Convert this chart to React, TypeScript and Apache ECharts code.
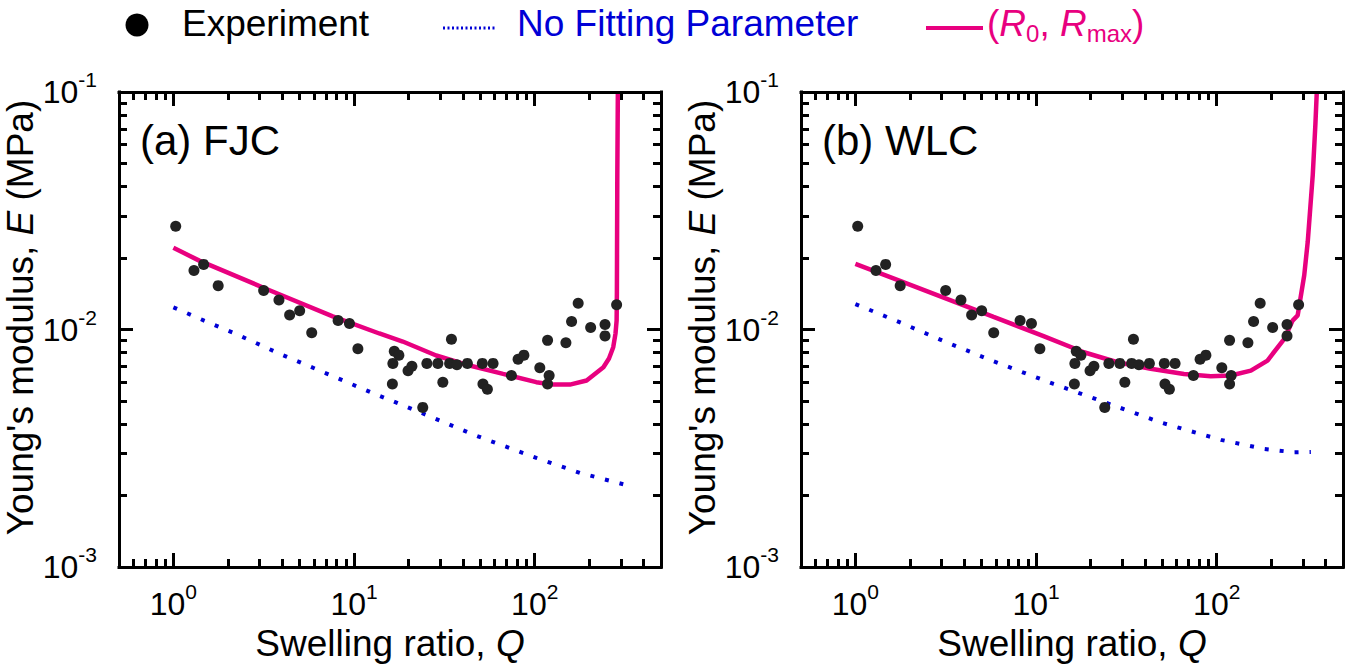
import React, { useEffect, useRef } from 'react';
import * as echarts from 'echarts';

const FONT = '"Liberation Sans", Arial, Helvetica, sans-serif';
const DOT = '#222222';
const BLUE = '#0000d6';
const PINK = '#e8007f';

// Experimental data (shared by both panels)
const expQ = [1.03, 1.30, 1.47, 1.77, 3.16, 3.84, 4.40, 5.00, 5.83, 8.16, 9.43, 10.5, 16.3, 16.4, 16.7, 17.7, 19.9, 20.9, 24.0, 25.3, 29.1, 31.0, 33.8, 34.6, 37.1, 42.4, 51.3, 51.7, 54.7, 58.8, 74.3, 80.9, 87.1, 106.7, 117.8, 120.2, 117.8, 148.8, 160, 174, 204, 245, 245, 284];
const expE = [0.0272, 0.0177, 0.0188, 0.0153, 0.0146, 0.0133, 0.0115, 0.0120, 0.0097, 0.0109, 0.0106, 0.0083, 0.0059, 0.0072, 0.0081, 0.0078, 0.0067, 0.0070, 0.0047, 0.0072, 0.0072, 0.0060, 0.0072, 0.0091, 0.0071, 0.0072, 0.0072, 0.0059, 0.0056, 0.0072, 0.0064, 0.0075, 0.0078, 0.0069, 0.0090, 0.0064, 0.0059, 0.0088, 0.0108, 0.0129, 0.0102, 0.0105, 0.0094, 0.0127];

// (a) FJC
const fjcFitQ = [1, 1.39, 3.25, 7.62, 13.8, 18.6, 28.5, 43.6, 66.8, 102, 126.5, 156.6, 193.8, 240, 257.7, 272, 280, 284, 285, 286.5, 288.5];
const fjcFitE = [0.0221, 0.0195, 0.01485, 0.01135, 0.00962, 0.0089, 0.00777, 0.00705, 0.0065, 0.0060, 0.00586, 0.00586, 0.0061, 0.00693, 0.00755, 0.00842, 0.00962, 0.0109, 0.0144, 0.0447, 0.1];
const fjcNoFitQ = [1, 1.48, 2.17, 3.9, 7.0, 12.4, 22.1, 47.5, 102, 178, 309];
const fjcNoFitE = [0.0124, 0.0109, 0.00965, 0.00789, 0.00654, 0.00544, 0.00455, 0.00357, 0.00288, 0.00249, 0.00223];

// (b) WLC
const wlcFitQ = [1, 1.81, 3.21, 5.82, 11.0, 18.4, 28.2, 43.1, 65.9, 92.7, 119.7, 154.5, 191, 236.6, 263, 280.6, 305, 319, 340, 351.5, 358];
const wlcFitE = [0.0189, 0.0159, 0.01346, 0.0113, 0.00938, 0.00802, 0.00728, 0.00683, 0.0065, 0.00635, 0.0064, 0.00671, 0.0074, 0.00914, 0.0109, 0.01146, 0.0169, 0.0234, 0.0447, 0.0726, 0.1];
const wlcNoFitQ = [1, 1.81, 3.28, 5.82, 12.5, 22.8, 49, 105.5, 183, 269, 332];
const wlcNoFitE = [0.0128, 0.01063, 0.00876, 0.00735, 0.0059, 0.00501, 0.00406, 0.00343, 0.00314, 0.00304, 0.00305];

const X_MIN = 0.5;
const X_MAX = 500;
const Y_MIN = 0.001;
const Y_MAX = 0.1;

const panelLabels = ['(a) FJC', '(b) WLC'];
const gridLefts = [119, 801];

const zip = (a: number[], b: number[]) => a.map((v, i) => [v, b[i]]);

const powLabel = (v: number) => {
  const l = Math.log10(v);
  const r = Math.round(l);
  if (Math.abs(l - r) > 1e-6) return '';
  return `{b|10}{s|${r}}`;
};

const labelRich = {
  b: { fontSize: 32, fontFamily: FONT, color: '#000', lineHeight: 46 },
  s: { fontSize: 21, fontFamily: FONT, color: '#000', lineHeight: 21, verticalAlign: 'top' },
};

const nameRich = {
  t: { fontSize: 37, fontFamily: FONT, color: '#000', lineHeight: 42 },
  i: { fontSize: 37, fontFamily: FONT, color: '#000', fontStyle: 'italic', lineHeight: 42 },
};

const tickCommon = {
  axisLine: { show: true, onZero: false, lineStyle: { color: '#000', width: 3, cap: 'square' } },
  axisTick: { show: true, inside: true, length: 14, lineStyle: { color: '#000', width: 3 } },
  minorTick: { show: true, splitNumber: 9, length: 8, lineStyle: { color: '#000', width: 3 } },
  splitLine: { show: false },
  minorSplitLine: { show: false },
  z: 5,
};

function baseGraphics(): any[] {
  return [
    // legend
    { type: 'circle', shape: { cx: 137, cy: 25, r: 11.5 }, style: { fill: '#000' } },
    {
      type: 'text', x: 182, y: 23,
      style: { text: 'Experiment', fontSize: 37, fontFamily: FONT, fill: '#000', verticalAlign: 'middle', align: 'left' },
    },
    { type: 'line', shape: { x1: 443, y1: 28, x2: 495, y2: 28 }, style: { stroke: BLUE, lineWidth: 3, lineDash: [2, 2.5] } },
    {
      type: 'text', x: 517, y: 23,
      style: { text: 'No Fitting Parameter', fontSize: 37, fontFamily: FONT, fill: BLUE, verticalAlign: 'middle', align: 'left' },
    },
    { type: 'line', shape: { x1: 926, y1: 28, x2: 983, y2: 28 }, style: { stroke: PINK, lineWidth: 4 } },
    {
      type: 'text', x: 987, y: 23,
      style: {
        text: '{t|(}{i|R}{s|0}{t|, }{i|R}{s|max}{t|)}',
        fontSize: 37, fontFamily: FONT, fill: PINK, verticalAlign: 'middle', align: 'left',
        rich: {
          t: { fontSize: 37, fontFamily: FONT, fill: PINK, lineHeight: 44 },
          i: { fontSize: 37, fontFamily: FONT, fill: PINK, fontStyle: 'italic', lineHeight: 44 },
          s: { fontSize: 24, fontFamily: FONT, fill: PINK, lineHeight: 24, verticalAlign: 'bottom' },
        },
      },
    },
    // panel labels
    ...panelLabels.map((t, i) => ({
      type: 'text', x: gridLefts[i] + 21, y: 140,
      style: { text: t, fontSize: 42, fontFamily: FONT, fill: '#000', verticalAlign: 'middle', align: 'left' },
    })),
  ];
}

function buildOption() {
  const grids = gridLefts.map((left) => ({
    left,
    top: 92,
    width: 542,
    height: 475,
    show: false,
    containLabel: false,
    outerBoundsMode: 'none',
  }));

  const xAxes: any[] = [];
  const yAxes: any[] = [];
  gridLefts.forEach((_, gi) => {
    xAxes.push({
      type: 'log',
      logBase: 10,
      gridIndex: gi,
      position: 'bottom',
      min: X_MIN,
      max: X_MAX,
      ...tickCommon,
      axisLabel: { margin: 14, formatter: powLabel, rich: labelRich, color: '#000' },
      name: '{t|Swelling ratio, }{i|Q}',
      nameLocation: 'middle',
      nameGap: 52,
      nameTextStyle: { rich: nameRich },
    });
    xAxes.push({
      type: 'log',
      logBase: 10,
      gridIndex: gi,
      position: 'top',
      min: X_MIN,
      max: X_MAX,
      ...tickCommon,
      axisLabel: { show: false },
    });
    yAxes.push({
      type: 'log',
      logBase: 10,
      gridIndex: gi,
      position: 'left',
      min: Y_MIN,
      max: Y_MAX,
      ...tickCommon,
      axisLabel: { margin: 22, formatter: powLabel, rich: labelRich, color: '#000' },
      name: "{t|Young's modulus, }{i|E}{t| (MPa)}",
      nameLocation: 'middle',
      nameGap: 74,
      nameRotate: 90,
      nameTextStyle: { rich: nameRich, padding: [0, 0, 0, 24] },
    });
    yAxes.push({
      type: 'log',
      logBase: 10,
      gridIndex: gi,
      position: 'right',
      min: Y_MIN,
      max: Y_MAX,
      ...tickCommon,
      axisLabel: { show: false },
    });
  });

  const fits = [
    { fit: zip(fjcFitQ, fjcFitE), nofit: zip(fjcNoFitQ, fjcNoFitE) },
    { fit: zip(wlcFitQ, wlcFitE), nofit: zip(wlcNoFitQ, wlcNoFitE) },
  ];

  const series: any[] = [];
  fits.forEach((f, gi) => {
    const ax = gi * 2;
    series.push({
      type: 'line',
      name: 'No Fitting Parameter',
      xAxisIndex: ax,
      yAxisIndex: ax,
      data: f.nofit,
      showSymbol: false,
      symbol: 'none',
      silent: true,
      z: 2,
      clip: true,
      lineStyle: { color: BLUE, width: 4, type: [4, 11], cap: 'butt' },
    });
    series.push({
      type: 'line',
      name: '(R0, Rmax)',
      xAxisIndex: ax,
      yAxisIndex: ax,
      data: f.fit,
      showSymbol: false,
      symbol: 'none',
      silent: true,
      z: 3,
      clip: true,
      lineStyle: { color: PINK, width: 4.5 },
    });
    series.push({
      type: 'scatter',
      name: 'Experiment',
      xAxisIndex: ax,
      yAxisIndex: ax,
      data: zip(expQ, expE),
      symbol: 'circle',
      symbolSize: 11,
      silent: true,
      z: 4,
      itemStyle: { color: DOT, opacity: 1 },
    });
  });

  return {
    animation: false,
    backgroundColor: '#fff',
    textStyle: { fontFamily: FONT },
    grid: grids,
    xAxis: xAxes,
    yAxis: yAxes,
    series,
    graphic: baseGraphics(),
  };
}

export default function App() {
  const ref = useRef<HTMLDivElement>(null);
  useEffect(() => {
    if (!ref.current) return;
    const chart = echarts.init(ref.current, null, { renderer: 'svg' });
    chart.setOption(buildOption() as any);
    return () => chart.dispose();
  }, []);
  return (
    <div
      ref={ref}
      style={{ position: 'absolute', left: 0, top: 0, width: 1358, height: 665 }}
    />
  );
}
